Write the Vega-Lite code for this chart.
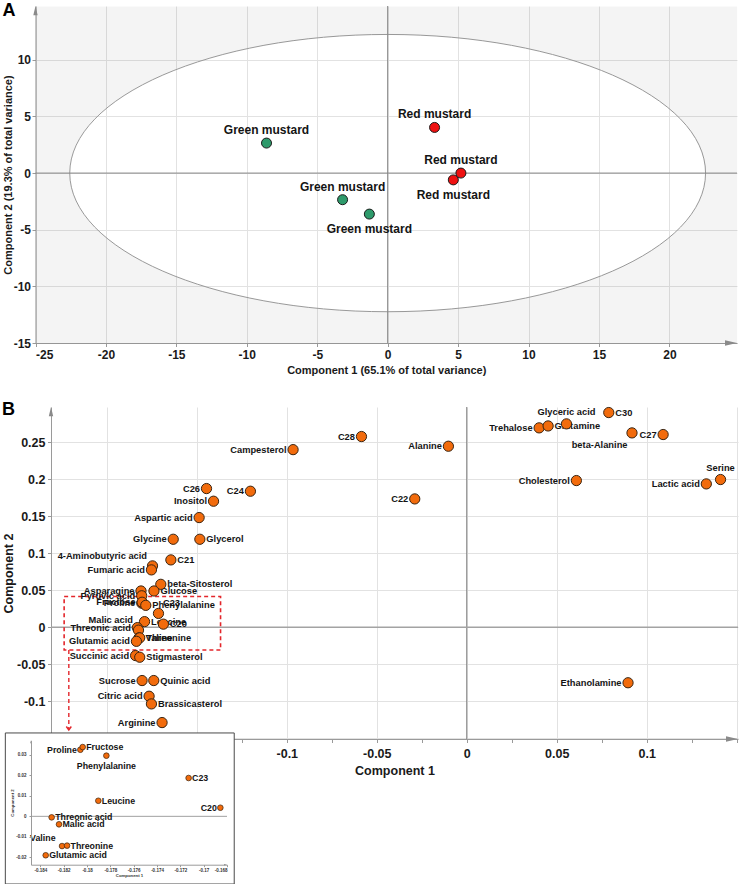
{
  "$schema": "https://vega.github.io/schema/vega-lite/v6.json",
  "padding": {"left": 2, "top": 1, "right": 0, "bottom": 0},
  "autosize": {"type": "pad"},
  "spacing": 26,
  "bounds": "full",
  "config": {
    "view": {"stroke": null},
    "axis": {
      "domainColor": "#9a9a9a", "tickColor": "#9a9a9a", "gridColor": "#e2e2e2",
      "labelColor": "#1a1a1a", "titleColor": "#1a1a1a",
      "labelFont": "Liberation Sans", "titleFont": "Liberation Sans",
      "labelFontWeight": "bold", "titleFontWeight": "bold"
    }
  },
  "datasets": {
    "scores": [
      {"sample": "G1", "group": "Green mustard", "c1": -8.6, "c2": 2.65},
      {"sample": "G2", "group": "Green mustard", "c1": -3.2, "c2": -2.35},
      {"sample": "G3", "group": "Green mustard", "c1": -1.3, "c2": -3.62},
      {"sample": "R1", "group": "Red mustard", "c1": 3.33, "c2": 4.03},
      {"sample": "R2", "group": "Red mustard", "c1": 5.2, "c2": 0.0},
      {"sample": "R3", "group": "Red mustard", "c1": 4.66, "c2": -0.6}
    ],
    "loadings": [
      {"name": "C28", "c1": -0.0585, "c2": 0.2577},
      {"name": "Campesterol", "c1": -0.0965, "c2": 0.240},
      {"name": "C26", "c1": -0.1446, "c2": 0.1874},
      {"name": "C24", "c1": -0.1202, "c2": 0.1838},
      {"name": "Inositol", "c1": -0.1407, "c2": 0.1703},
      {"name": "Aspartic acid", "c1": -0.1487, "c2": 0.1482},
      {"name": "Glycine", "c1": -0.1631, "c2": 0.1189},
      {"name": "Glycerol", "c1": -0.1483, "c2": 0.1189},
      {"name": "C21", "c1": -0.1644, "c2": 0.0910},
      {"name": "4-Aminobutyric acid", "c1": -0.1746, "c2": 0.0829},
      {"name": "Fumaric acid", "c1": -0.1752, "c2": 0.0775},
      {"name": "beta-Sitosterol", "c1": -0.1700, "c2": 0.0580},
      {"name": "Glucose", "c1": -0.1738, "c2": 0.0490},
      {"name": "Asparagine", "c1": -0.1810, "c2": 0.0490},
      {"name": "Pyruvic acid", "c1": -0.1806, "c2": 0.0425},
      {"name": "Proline", "c1": -0.18057, "c2": 0.0325},
      {"name": "Fructose", "c1": -0.18037, "c2": 0.0338},
      {"name": "Phenylalanine", "c1": -0.17834, "c2": 0.0296},
      {"name": "C23", "c1": -0.17129, "c2": 0.0187},
      {"name": "Leucine", "c1": -0.17903, "c2": 0.0076},
      {"name": "C20", "c1": -0.16857, "c2": 0.0042},
      {"name": "Threonic acid", "c1": -0.18303, "c2": -0.0005},
      {"name": "Malic acid", "c1": -0.1824, "c2": -0.0039},
      {"name": "Valine", "c1": -0.18214, "c2": -0.0145},
      {"name": "Threonine", "c1": -0.18171, "c2": -0.0143},
      {"name": "Glutamic acid", "c1": -0.18354, "c2": -0.0190},
      {"name": "Succinic acid", "c1": -0.1840, "c2": -0.0383},
      {"name": "Stigmasterol", "c1": -0.1817, "c2": -0.0405},
      {"name": "Sucrose", "c1": -0.1804, "c2": -0.0720},
      {"name": "Quinic acid", "c1": -0.1739, "c2": -0.0720},
      {"name": "Citric acid", "c1": -0.1765, "c2": -0.0932},
      {"name": "Brassicasterol", "c1": -0.1752, "c2": -0.1036},
      {"name": "Arginine", "c1": -0.1693, "c2": -0.1288},
      {"name": "Alanine", "c1": -0.0102, "c2": 0.2446},
      {"name": "C22", "c1": -0.0289, "c2": 0.1734},
      {"name": "Trehalose", "c1": 0.0402, "c2": 0.2694},
      {"name": "Glutamine", "c1": 0.0452, "c2": 0.2720},
      {"name": "Glyceric acid", "c1": 0.0554, "c2": 0.2748},
      {"name": "C30", "c1": 0.0789, "c2": 0.2901},
      {"name": "beta-Alanine", "c1": 0.0918, "c2": 0.2626},
      {"name": "C27", "c1": 0.1091, "c2": 0.2604},
      {"name": "Cholesterol", "c1": 0.0609, "c2": 0.1982},
      {"name": "Lactic acid", "c1": 0.1331, "c2": 0.1937},
      {"name": "Serine", "c1": 0.1410, "c2": 0.1996},
      {"name": "Ethanolamine", "c1": 0.0896, "c2": -0.0750}
    ]
  },
  "vconcat": [
    {
      "width": 686,
      "height": 337,
      "title": {"text": "A", "anchor": "start", "frame": "bounds", "orient": "top", "baseline": "top", "offset": -14, "fontSize": 18, "fontWeight": "bold", "font": "Liberation Sans", "color": "#000000"},
      "layer": [
        {
          "data": {"values": [{}]},
          "mark": {"type": "point", "shape": "M1,0C1,0.2409 0.5523,0.4361 0,0.4361C-0.5523,0.4361 -1,0.2409 -1,0C-1,-0.2409 -0.5523,-0.4361 0,-0.4361C0.5523,-0.4361 1,-0.2409 1,0Z", "filled": false, "size": 404242, "stroke": "#9c9c9c", "strokeWidth": 1, "opacity": 1},
          "encoding": {
            "x": {"datum": 0, "type": "quantitative",
              "scale": {"domain": [-25, 24.8], "range": [-15.5, 686], "nice": false, "zero": false},
              "axis": {"values": [-25, -22.5, -20, -17.5, -15, -12.5, -10, -7.5, -5, -2.5, 0, 2.5, 5, 7.5, 10, 12.5, 15, 17.5, 20, 22.5],
                "labelExpr": "abs(datum.value % 5) < 0.001 ? (datum.value < 0 ? '-' : '') + format(abs(datum.value), '~g') : ''",
                "gridOpacity": {"condition": {"test": "abs(datum.value % 5) < 0.001", "value": 1}, "value": 0},
                "grid": true, "tickSize": 3.5, "labelPadding": 3, "labelFontSize": 12,
                "title": "Component 1 (65.1% of total variance)", "titleFontSize": 11, "titlePadding": 3.5}},
            "y": {"datum": 0, "type": "quantitative",
              "scale": {"domain": [-15, 14.75], "nice": false, "zero": false},
              "axis": {"values": [-15, -12.5, -10, -7.5, -5, -2.5, 0, 2.5, 5, 7.5, 10, 12.5],
                "labelExpr": "abs(datum.value % 5) < 0.001 ? (datum.value < 0 ? '-' : '') + format(abs(datum.value), '~g') : ''",
                "gridOpacity": {"condition": {"test": "abs(datum.value % 5) < 0.001", "value": 1}, "value": 0},
                "grid": true, "tickSize": 3.5, "labelPadding": 1.5, "labelFontSize": 12, "offset": 15.5,
                "minExtent": 22, "maxExtent": 22,
                "title": "Component 2 (19.3% of total variance)", "titleFontSize": 11, "titlePadding": 0}}
          }
        },
        {
          "data": {"values": [{}]},
          "mark": {"type": "point", "shape": "M-1.109,-0.5244L1.0994,-0.5244L1.0994,0.5357L-1.109,0.5357ZM1,0C1,-0.2409 0.5523,-0.4361 0,-0.4361C-0.5523,-0.4361 -1,-0.2409 -1,0C-1,0.2409 -0.5523,0.4361 0,0.4361C0.5523,0.4361 1,0.2409 1,0Z", "filled": true, "size": 404242, "color": "#000000", "opacity": 0.045, "strokeWidth": 0},
          "encoding": {"x": {"datum": 0, "type": "quantitative"}, "y": {"datum": 0, "type": "quantitative"}}
        },
        {
          "data": {"values": [{}]},
          "mark": {"type": "rule", "color": "#858585", "strokeWidth": 1},
          "encoding": {"x": {"datum": 0, "type": "quantitative"}}
        },
        {
          "data": {"values": [{}]},
          "mark": {"type": "rule", "color": "#858585", "strokeWidth": 1},
          "encoding": {"x": {"datum": -25, "type": "quantitative"}, "x2": {"datum": 24.8}, "y": {"datum": 0, "type": "quantitative"}}
        },
        {
          "data": {"values": [{}]},
          "mark": {"type": "point", "shape": "M0,0L-3,-0.7L-3,0.7Z", "filled": true, "size": 64, "color": "#8a8a8a", "opacity": 1, "strokeWidth": 0},
          "encoding": {"x": {"datum": 24.8, "type": "quantitative"}, "y": {"datum": -15, "type": "quantitative"}}
        },
        {
          "data": {"values": [{}]},
          "mark": {"type": "point", "shape": "M0,0L-0.55,2.3L0.55,2.3Z", "filled": true, "size": 64, "color": "#8a8a8a", "opacity": 1, "strokeWidth": 0},
          "encoding": {"x": {"datum": -25, "type": "quantitative"}, "y": {"datum": 14.75, "type": "quantitative"}}
        },
        {
          "data": {"name": "scores"},
          "mark": {"type": "circle", "size": 100, "stroke": "#1b1b1b", "strokeWidth": 1, "opacity": 1},
          "encoding": {
            "x": {"field": "c1", "type": "quantitative"},
            "y": {"field": "c2", "type": "quantitative"},
            "color": {"field": "group", "type": "nominal", "scale": {"domain": ["Green mustard", "Red mustard"], "range": ["#2e9a6b", "#ee1111"]}, "legend": null}
          }
        },
        {
          "data": {"name": "scores"},
          "transform": [{"filter": {"field": "sample", "oneOf": ["G1", "G2", "R1", "R2"]}}],
          "mark": {"type": "text", "align": "center", "baseline": "middle", "dy": -13, "font": "Liberation Sans", "fontSize": 12, "fontWeight": "bold", "color": "#141414"},
          "encoding": {"x": {"field": "c1", "type": "quantitative"}, "y": {"field": "c2", "type": "quantitative"}, "text": {"field": "group"}}
        },
        {
          "data": {"name": "scores"},
          "transform": [{"filter": {"field": "sample", "oneOf": ["G3", "R3"]}}],
          "mark": {"type": "text", "align": "center", "baseline": "middle", "dy": 15, "font": "Liberation Sans", "fontSize": 12, "fontWeight": "bold", "color": "#141414"},
          "encoding": {"x": {"field": "c1", "type": "quantitative"}, "y": {"field": "c2", "type": "quantitative"}, "text": {"field": "group"}}
        }
      ]
    },
    {
      "width": 687,
      "height": 332,
      "title": {"text": "B", "anchor": "start", "frame": "bounds", "orient": "top", "baseline": "top", "offset": -14, "fontSize": 18, "fontWeight": "bold", "font": "Liberation Sans", "color": "#000000"},
      "resolve": {"scale": {"x": "independent", "y": "independent"}, "axis": {"x": "independent", "y": "independent"}},
      "layer": [
        {
          "layer": [
            {
              "data": {"values": [{}]},
              "mark": {"type": "rule", "color": "#7c7c7c", "strokeWidth": 1},
              "encoding": {
                "x": {"datum": 0, "type": "quantitative",
                  "scale": {"domain": [-0.231, 0.1507], "nice": false, "zero": false},
                  "axis": {"values": [-0.225, -0.2, -0.175, -0.15, -0.125, -0.1, -0.075, -0.05, -0.025, 0, 0.025, 0.05, 0.075, 0.1, 0.125, 0.15],
                    "labelExpr": "datum.value < 0.14 && abs(datum.value * 20 - round(datum.value * 20)) < 0.001 ? (datum.value < 0 ? '-' : '') + format(abs(datum.value), '~g') : ''",
                    "gridOpacity": {"condition": {"test": "abs(datum.value * 20 - round(datum.value * 20)) < 0.001", "value": 1}, "value": 0},
                    "grid": true, "tickSize": 3.5, "labelPadding": 5, "labelFontSize": 12.5,
                    "title": "Component 1", "titleFontSize": 12.5, "titlePadding": 4}}
              }
            },
            {
              "data": {"values": [{}]},
              "mark": {"type": "rule", "color": "#a3a3a3", "strokeWidth": 1.6},
              "encoding": {
                "y": {"datum": 0, "type": "quantitative",
                  "scale": {"domain": [-0.151, 0.2976], "nice": false, "zero": false},
                  "axis": {"values": [-0.15, -0.125, -0.1, -0.075, -0.05, -0.025, 0, 0.025, 0.05, 0.075, 0.1, 0.125, 0.15, 0.175, 0.2, 0.225, 0.25, 0.275],
                    "labelExpr": "datum.value > -0.14 && abs(datum.value * 20 - round(datum.value * 20)) < 0.001 ? (datum.value < 0 ? '-' : '') + format(abs(datum.value), '~g') : ''",
                    "gridOpacity": {"condition": {"test": "abs(datum.value * 20 - round(datum.value * 20)) < 0.001", "value": 1}, "value": 0},
                    "grid": true, "tickSize": 3.5, "labelPadding": 2.5, "labelFontSize": 12.5,
                    "minExtent": 36, "maxExtent": 36,
                    "title": "Component 2", "titleFontSize": 12.5, "titlePadding": 0}}
              }
            },
            {
              "data": {"values": [{}]},
              "mark": {"type": "point", "shape": "M0,0L-3,-0.7L-3,0.7Z", "filled": true, "size": 64, "color": "#8a8a8a", "opacity": 1, "strokeWidth": 0},
              "encoding": {"x": {"datum": 0.1507, "type": "quantitative"}, "y": {"datum": -0.151, "type": "quantitative"}}
            },
            {
              "data": {"values": [{}]},
              "mark": {"type": "point", "shape": "M0,0L-0.55,2.3L0.55,2.3Z", "filled": true, "size": 64, "color": "#8a8a8a", "opacity": 1, "strokeWidth": 0},
              "encoding": {"x": {"datum": -0.231, "type": "quantitative"}, "y": {"datum": 0.2976, "type": "quantitative"}}
            },
            {
              "data": {"values": [{}]},
              "mark": {"type": "rect", "fill": "#ffffff", "fillOpacity": 0, "stroke": "#e3262b", "strokeWidth": 1.6, "strokeDash": [4, 3]},
              "encoding": {"x": {"datum": -0.2237, "type": "quantitative"}, "x2": {"datum": -0.1368}, "y": {"datum": 0.0415, "type": "quantitative"}, "y2": {"datum": -0.0307}}
            },
            {
              "data": {"values": [{}]},
              "mark": {"type": "rule", "color": "#e3262b", "strokeWidth": 1.4, "strokeDash": [4, 3]},
              "encoding": {"x": {"datum": -0.2211, "type": "quantitative"}, "y": {"datum": -0.0307, "type": "quantitative"}, "y2": {"datum": -0.1382}}
            },
            {
              "data": {"values": [{}]},
              "mark": {"type": "point", "shape": "M-1,-1.4L0,0L1,-1.4", "filled": false, "size": 25, "stroke": "#e3262b", "strokeWidth": 1.4, "opacity": 1},
              "encoding": {"x": {"datum": -0.2211, "type": "quantitative"}, "y": {"datum": -0.1388, "type": "quantitative"}}
            },
            {
              "data": {"name": "loadings"},
              "transform": [{"filter": {"field": "name", "oneOf": ["C28", "Campesterol", "C26", "C24", "Inositol", "Aspartic acid", "Glycine", "Fumaric acid", "Asparagine", "Pyruvic acid", "Proline", "Fructose", "Threonic acid", "Glutamic acid", "Succinic acid", "Sucrose", "Citric acid", "Arginine", "Alanine", "C22", "Trehalose", "C27", "Cholesterol", "Lactic acid", "Ethanolamine"]}}],
              "mark": {"type": "text", "align": "right", "baseline": "middle", "dx": -6.5, "font": "Liberation Sans", "fontSize": 9.3, "fontWeight": "bold", "color": "#141414"},
              "encoding": {"x": {"field": "c1", "type": "quantitative"}, "y": {"field": "c2", "type": "quantitative"}, "text": {"field": "name"}}
            },
            {
              "data": {"name": "loadings"},
              "transform": [{"filter": {"field": "name", "oneOf": ["Glycerol", "C21", "beta-Sitosterol", "Glucose", "Phenylalanine", "Leucine", "C20", "Valine", "Threonine", "Stigmasterol", "Quinic acid", "Brassicasterol", "Glutamine", "C30"]}}],
              "mark": {"type": "text", "align": "left", "baseline": "middle", "dx": 6.5, "font": "Liberation Sans", "fontSize": 9.3, "fontWeight": "bold", "color": "#141414"},
              "encoding": {"x": {"field": "c1", "type": "quantitative"}, "y": {"field": "c2", "type": "quantitative"}, "text": {"field": "name"}}
            },
            {
              "data": {"name": "loadings"},
              "transform": [{"filter": {"field": "name", "oneOf": ["4-Aminobutyric acid", "Malic acid"]}}],
              "mark": {"type": "text", "align": "right", "baseline": "middle", "dx": -5.5, "dy": -10, "font": "Liberation Sans", "fontSize": 9.3, "fontWeight": "bold", "color": "#141414"},
              "encoding": {"x": {"field": "c1", "type": "quantitative"}, "y": {"field": "c2", "type": "quantitative"}, "text": {"field": "name"}}
            },
            {
              "data": {"name": "loadings"},
              "transform": [{"filter": {"field": "name", "oneOf": ["C23"]}}],
              "mark": {"type": "text", "align": "left", "baseline": "middle", "dx": 4.5, "dy": -10, "font": "Liberation Sans", "fontSize": 9.3, "fontWeight": "bold", "color": "#141414"},
              "encoding": {"x": {"field": "c1", "type": "quantitative"}, "y": {"field": "c2", "type": "quantitative"}, "text": {"field": "name"}}
            },
            {
              "data": {"name": "loadings"},
              "transform": [{"filter": {"field": "name", "oneOf": ["Glyceric acid", "Serine"]}}],
              "mark": {"type": "text", "align": "center", "baseline": "middle", "dy": -12, "font": "Liberation Sans", "fontSize": 9.3, "fontWeight": "bold", "color": "#141414"},
              "encoding": {"x": {"field": "c1", "type": "quantitative"}, "y": {"field": "c2", "type": "quantitative"}, "text": {"field": "name"}}
            },
            {
              "data": {"name": "loadings"},
              "transform": [{"filter": {"field": "name", "oneOf": ["beta-Alanine"]}}],
              "mark": {"type": "text", "align": "right", "baseline": "middle", "dx": -4.5, "dy": 12, "font": "Liberation Sans", "fontSize": 9.3, "fontWeight": "bold", "color": "#141414"},
              "encoding": {"x": {"field": "c1", "type": "quantitative"}, "y": {"field": "c2", "type": "quantitative"}, "text": {"field": "name"}}
            },
            {
              "data": {"name": "loadings"},
              "mark": {"type": "circle", "size": 105, "color": "#f26b0c", "stroke": "#3a2410", "strokeWidth": 1, "opacity": 1},
              "encoding": {"x": {"field": "c1", "type": "quantitative"}, "y": {"field": "c2", "type": "quantitative"}}
            }
          ]
        },
        {
          "layer": [
            {
              "data": {"values": [{}]},
              "mark": {"type": "rect", "fill": "#ffffff", "stroke": "#4a4a4a", "strokeWidth": 1},
              "encoding": {
                "x": {"datum": -0.187, "type": "quantitative",
                  "scale": {"domain": [-0.1848, -0.168], "range": [-20, 176], "nice": false, "zero": false},
                  "axis": {"orient": "bottom", "offset": 125.7, "zindex": 2, "grid": false,
                    "values": [-0.184, -0.182, -0.18, -0.178, -0.176, -0.174, -0.172, -0.17, -0.168],
                    "labelExpr": "(datum.value < 0 ? '-' : '') + format(abs(datum.value), '~g')",
                    "labelFontSize": 4.5, "tickSize": 2, "labelPadding": 1, "labelColor": "#333333",
                    "title": "Component 1", "titleFontSize": 4.3, "titlePadding": 1.5, "titleColor": "#333333"}},
                "x2": {"datum": -0.16738},
                "y": {"datum": 0.04068, "type": "quantitative",
                  "scale": {"domain": [-0.0236, 0.0371], "range": [457.7, 333.3], "nice": false, "zero": false},
                  "axis": {"orient": "left", "offset": 20, "zindex": 2, "grid": false,
                    "values": [-0.02, -0.01, 0, 0.01, 0.02, 0.03],
                    "labelExpr": "(datum.value < 0 ? '-' : '') + format(abs(datum.value), '~g')",
                    "labelFontSize": 4.5, "tickSize": 2, "labelPadding": 3, "labelColor": "#333333",
                    "minExtent": 14, "maxExtent": 14,
                    "title": "Component 2", "titleFontSize": 4.3, "titlePadding": 2.5, "titleColor": "#333333"}},
                "y2": {"datum": -0.03302}
              }
            },
            {
              "data": {"values": [{}]},
              "mark": {"type": "rule", "color": "#a0a0a0", "strokeWidth": 1},
              "encoding": {"x": {"datum": -0.1848, "type": "quantitative"}, "x2": {"datum": -0.168}, "y": {"datum": 0, "type": "quantitative"}}
            },
            {
              "data": {"values": [{}]},
              "mark": {"type": "point", "shape": "M0,0L-3,-0.8L-3,0.8Z", "filled": true, "size": 4, "color": "#8a8a8a", "opacity": 1, "strokeWidth": 0},
              "encoding": {"x": {"datum": -0.168, "type": "quantitative"}, "y": {"datum": -0.0236, "type": "quantitative"}}
            },
            {
              "data": {"values": [{}]},
              "mark": {"type": "point", "shape": "M0,0L-0.8,3L0.8,3Z", "filled": true, "size": 4, "color": "#8a8a8a", "opacity": 1, "strokeWidth": 0},
              "encoding": {"x": {"datum": -0.1848, "type": "quantitative"}, "y": {"datum": 0.0371, "type": "quantitative"}}
            },
            {
              "data": {"name": "loadings"},
              "transform": [{"filter": "datum.c1 > -0.1848 && datum.c1 < -0.168 && datum.c2 > -0.0236 && datum.c2 < 0.0371"}, {"filter": {"field": "name", "oneOf": ["Proline", "C20"]}}],
              "mark": {"type": "text", "align": "right", "baseline": "middle", "dx": -3.5, "font": "Liberation Sans", "fontSize": 8.8, "fontWeight": "bold", "color": "#141414"},
              "encoding": {"x": {"field": "c1", "type": "quantitative"}, "y": {"field": "c2", "type": "quantitative"}, "text": {"field": "name"}}
            },
            {
              "data": {"name": "loadings"},
              "transform": [{"filter": "datum.c1 > -0.1848 && datum.c1 < -0.168 && datum.c2 > -0.0236 && datum.c2 < 0.0371"}, {"filter": {"field": "name", "oneOf": ["Fructose", "C23", "Leucine", "Threonic acid", "Malic acid", "Threonine", "Glutamic acid"]}}],
              "mark": {"type": "text", "align": "left", "baseline": "middle", "dx": 3.5, "font": "Liberation Sans", "fontSize": 8.8, "fontWeight": "bold", "color": "#141414"},
              "encoding": {"x": {"field": "c1", "type": "quantitative"}, "y": {"field": "c2", "type": "quantitative"}, "text": {"field": "name"}}
            },
            {
              "data": {"name": "loadings"},
              "transform": [{"filter": "datum.c1 > -0.1848 && datum.c1 < -0.168 && datum.c2 > -0.0236 && datum.c2 < 0.0371"}, {"filter": {"field": "name", "oneOf": ["Phenylalanine"]}}],
              "mark": {"type": "text", "align": "center", "baseline": "middle", "dy": 10.5, "font": "Liberation Sans", "fontSize": 8.8, "fontWeight": "bold", "color": "#141414"},
              "encoding": {"x": {"field": "c1", "type": "quantitative"}, "y": {"field": "c2", "type": "quantitative"}, "text": {"field": "name"}}
            },
            {
              "data": {"name": "loadings"},
              "transform": [{"filter": "datum.c1 > -0.1848 && datum.c1 < -0.168 && datum.c2 > -0.0236 && datum.c2 < 0.0371"}, {"filter": {"field": "name", "oneOf": ["Valine"]}}],
              "mark": {"type": "text", "align": "right", "baseline": "middle", "dx": -6.5, "dy": -8, "font": "Liberation Sans", "fontSize": 8.8, "fontWeight": "bold", "color": "#141414"},
              "encoding": {"x": {"field": "c1", "type": "quantitative"}, "y": {"field": "c2", "type": "quantitative"}, "text": {"field": "name"}}
            },
            {
              "data": {"name": "loadings"},
              "transform": [{"filter": "datum.c1 > -0.1848 && datum.c1 < -0.168 && datum.c2 > -0.0236 && datum.c2 < 0.0371"}],
              "mark": {"type": "circle", "size": 32, "color": "#f26b0c", "stroke": "#3a2410", "strokeWidth": 0.7, "opacity": 1},
              "encoding": {"x": {"field": "c1", "type": "quantitative"}, "y": {"field": "c2", "type": "quantitative"}}
            }
          ]
        }
      ]
    }
  ]
}
